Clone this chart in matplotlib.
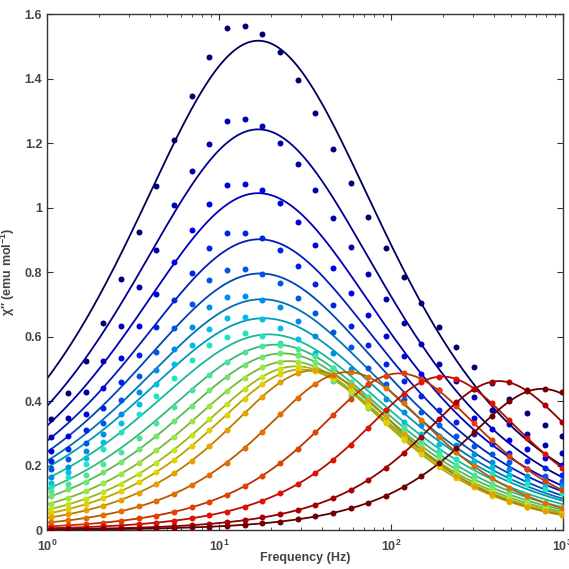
import numpy as np
import matplotlib
matplotlib.use("Agg")
import matplotlib.pyplot as plt

plt.rcParams["font.family"] = ["Liberation Sans", "DejaVu Sans"]
plt.rcParams["mathtext.fontset"] = "custom"
plt.rcParams["mathtext.rm"] = "Liberation Sans:bold"
plt.rcParams["mathtext.bf"] = "Liberation Sans:bold"

# measurement frequencies (Hz)
freq = [1.05, 1.33, 1.68, 2.13, 2.70, 3.42, 4.33, 5.48, 6.94, 8.80,
        11.1, 14.1, 17.9, 22.7, 28.7, 36.4, 46.1, 58.3, 73.9, 93.6,
        119, 150, 190, 241, 305, 387, 490, 621, 786, 996]

# generalized Debye fits: peak height, peak frequency (log10 Hz), alpha
peak_chi = [1.518, 1.243, 1.045, 0.902, 0.796, 0.716, 0.657, 0.607, 0.575,
            0.548, 0.524, 0.508, 0.498, 0.495, 0.490, 0.486, 0.476, 0.462, 0.438]
peak_logf = [1.229, 1.229, 1.229, 1.235, 1.24, 1.25, 1.26, 1.29, 1.33,
             1.37, 1.41, 1.45, 1.48, 1.55, 1.75, 2.05, 2.30, 2.63, 2.88]
alpha = [0.26, 0.26, 0.26, 0.26, 0.26, 0.26, 0.26, 0.24, 0.21,
         0.18, 0.15, 0.12, 0.09, 0.06, 0.05, 0.04, 0.02, 0.0, 0.0]

# measured chi'' at each temperature, coldest first
chi_t1 = [0.343, 0.424, 0.525, 0.643, 0.778, 0.924, 1.068, 1.21, 1.347, 1.466,
          1.557, 1.565, 1.540, 1.484, 1.396, 1.293, 1.181, 1.076, 0.970, 0.875,
          0.784, 0.704, 0.631, 0.567, 0.505, 0.455, 0.405, 0.364, 0.326, 0.292]
chi_t2 = [0.288, 0.346, 0.427, 0.524, 0.634, 0.753, 0.870, 1.008, 1.114, 1.198,
          1.269, 1.276, 1.253, 1.200, 1.136, 1.055, 0.967, 0.879, 0.794, 0.717,
          0.643, 0.576, 0.514, 0.462, 0.412, 0.371, 0.330, 0.297, 0.265, 0.239]
chi_t3 = [0.245, 0.291, 0.360, 0.442, 0.534, 0.634, 0.733, 0.833, 0.930, 1.010,
          1.070, 1.075, 1.055, 1.014, 0.957, 0.884, 0.812, 0.736, 0.667, 0.602,
          0.540, 0.484, 0.433, 0.389, 0.347, 0.313, 0.278, 0.250, 0.224, 0.201]
chi_t4 = [0.215, 0.250, 0.309, 0.379, 0.458, 0.544, 0.629, 0.715, 0.798, 0.875,
          0.921, 0.922, 0.905, 0.869, 0.819, 0.762, 0.698, 0.634, 0.574, 0.516,
          0.463, 0.415, 0.372, 0.334, 0.298, 0.268, 0.239, 0.215, 0.192, 0.172]
chi_t5 = [0.188, 0.220, 0.271, 0.333, 0.403, 0.478, 0.552, 0.628, 0.701, 0.776,
          0.807, 0.810, 0.794, 0.765, 0.719, 0.672, 0.615, 0.569, 0.503, 0.454,
          0.407, 0.365, 0.326, 0.293, 0.262, 0.236, 0.210, 0.189, 0.168, 0.151]
chi_t6 = [0.165, 0.197, 0.244, 0.299, 0.361, 0.429, 0.496, 0.563, 0.629, 0.693,
          0.724, 0.727, 0.714, 0.691, 0.648, 0.601, 0.550, 0.500, 0.451, 0.407,
          0.365, 0.327, 0.293, 0.263, 0.235, 0.212, 0.188, 0.169, 0.151, 0.136]
chi_t7 = [0.146, 0.180, 0.223, 0.273, 0.331, 0.392, 0.454, 0.515, 0.575, 0.624,
          0.657, 0.662, 0.654, 0.628, 0.593, 0.549, 0.503, 0.458, 0.413, 0.372,
          0.334, 0.299, 0.268, 0.241, 0.215, 0.194, 0.172, 0.155, 0.138, 0.124]
chi_t8 = [0.134, 0.165, 0.204, 0.251, 0.303, 0.360, 0.416, 0.473, 0.528, 0.574,
          0.598, 0.610, 0.603, 0.581, 0.544, 0.504, 0.461, 0.420, 0.379, 0.342,
          0.306, 0.275, 0.246, 0.221, 0.197, 0.178, 0.158, 0.142, 0.127, 0.114]
chi_t9 = [0.120, 0.143, 0.171, 0.204, 0.242, 0.285, 0.332, 0.383, 0.433, 0.482,
          0.521, 0.552, 0.571, 0.575, 0.563, 0.539, 0.503, 0.460, 0.413, 0.365,
          0.319, 0.276, 0.236, 0.201, 0.171, 0.143, 0.121, 0.101, 0.085, 0.071]
chi_t10 = [0.105, 0.126, 0.150, 0.179, 0.212, 0.250, 0.292, 0.338, 0.385, 0.433,
           0.476, 0.513, 0.538, 0.548, 0.542, 0.521, 0.488, 0.446, 0.399, 0.351,
           0.304, 0.262, 0.222, 0.188, 0.158, 0.132, 0.110, 0.092, 0.076, 0.063]
chi_t11 = [0.082, 0.100, 0.120, 0.145, 0.174, 0.208, 0.247, 0.290, 0.337, 0.385,
           0.431, 0.473, 0.505, 0.522, 0.522, 0.506, 0.475, 0.435, 0.388, 0.340,
           0.292, 0.250, 0.211, 0.177, 0.147, 0.122, 0.101, 0.083, 0.069, 0.057]
chi_t12 = [0.065, 0.080, 0.097, 0.118, 0.144, 0.174, 0.209, 0.249, 0.294, 0.343,
           0.391, 0.437, 0.476, 0.500, 0.508, 0.497, 0.470, 0.431, 0.384, 0.335,
           0.286, 0.243, 0.204, 0.169, 0.140, 0.115, 0.094, 0.077, 0.063, 0.051]
chi_t13 = [0.053, 0.065, 0.080, 0.098, 0.121, 0.148, 0.180, 0.218, 0.261, 0.309,
           0.358, 0.408, 0.452, 0.484, 0.498, 0.492, 0.467, 0.428, 0.381, 0.331,
           0.280, 0.236, 0.196, 0.161, 0.132, 0.107, 0.087, 0.071, 0.058, 0.047]
chi_t14 = [0.039, 0.049, 0.061, 0.076, 0.094, 0.116, 0.143, 0.176, 0.215, 0.260,
           0.309, 0.362, 0.414, 0.458, 0.486, 0.495, 0.482, 0.449, 0.404, 0.352,
           0.298, 0.251, 0.207, 0.169, 0.138, 0.111, 0.090, 0.072, 0.058, 0.047]
chi_t15 = [0.024, 0.030, 0.037, 0.047, 0.058, 0.073, 0.090, 0.112, 0.139, 0.172,
           0.209, 0.255, 0.305, 0.359, 0.410, 0.454, 0.482, 0.490, 0.475, 0.441,
           0.393, 0.342, 0.289, 0.241, 0.198, 0.161, 0.131, 0.105, 0.085, 0.068]
chi_t16 = [0.012, 0.015, 0.018, 0.023, 0.029, 0.036, 0.045, 0.056, 0.070, 0.088,
           0.109, 0.136, 0.169, 0.208, 0.252, 0.303, 0.356, 0.408, 0.452, 0.479,
           0.486, 0.469, 0.433, 0.384, 0.331, 0.278, 0.230, 0.188, 0.153, 0.123]
chi_t17 = [0.006, 0.007, 0.009, 0.011, 0.014, 0.018, 0.023, 0.029, 0.036, 0.046,
           0.057, 0.072, 0.091, 0.114, 0.142, 0.177, 0.218, 0.265, 0.318, 0.372,
           0.423, 0.458, 0.476, 0.468, 0.439, 0.393, 0.340, 0.286, 0.236, 0.192]
chi_t18 = [0.002, 0.003, 0.004, 0.005, 0.006, 0.007, 0.009, 0.012, 0.015, 0.019,
           0.024, 0.030, 0.039, 0.049, 0.062, 0.078, 0.099, 0.124, 0.156, 0.193,
           0.239, 0.289, 0.344, 0.396, 0.437, 0.460, 0.458, 0.431, 0.388, 0.335]
chi_t19 = [0.001, 0.002, 0.002, 0.002, 0.003, 0.004, 0.005, 0.006, 0.008, 0.010,
           0.013, 0.016, 0.021, 0.026, 0.033, 0.042, 0.053, 0.067, 0.085, 0.106,
           0.134, 0.167, 0.207, 0.253, 0.303, 0.355, 0.399, 0.433, 0.438, 0.427]
points = [chi_t1, chi_t2, chi_t3, chi_t4, chi_t5, chi_t6, chi_t7, chi_t8,
          chi_t9, chi_t10, chi_t11, chi_t12, chi_t13, chi_t14, chi_t15,
          chi_t16, chi_t17, chi_t18, chi_t19]


def debye(f, h, logfp, a):
    s = np.sin(np.pi * a / 2)
    u = (f / 10 ** logfp) ** (1 - a)
    return h * 2 * u * (1 + s) / (1 + 2 * u * s + u ** 2)


fig = plt.figure(figsize=(5.69, 5.69), dpi=100)
ax = fig.add_axes([0.0826, 0.0685, 0.9063, 0.9064])
cmap = plt.get_cmap("jet")
n = len(peak_chi)
fgrid = np.logspace(0, 3, 400)
for i in range(n):
    c = np.array(cmap(i / (n - 1))[:3])
    ax.plot(fgrid, debye(fgrid, peak_chi[i], peak_logf[i], alpha[i]),
            color=c * 0.72, lw=1.3, zorder=2)
    ax.plot(freq, points[i], "o", color=c * 0.9, ms=4.3, mec="none", zorder=3)

ax.set_xscale("log")
ax.set_xlim(1, 1000)
ax.set_ylim(0, 1.6)
ax.set_yticks([0, 0.2, 0.4, 0.6, 0.8, 1, 1.2, 1.4, 1.6])
ax.set_yticklabels(["0", "0.2", "0.4", "0.6", "0.8", "1", "1.2", "1.4", "1.6"])
ax.tick_params(which="both", direction="in", top=True, right=True,
               colors="#333333", labelcolor="#444444", labelsize=9)
ax.tick_params(which="major", length=4)
ax.tick_params(which="minor", length=2.5)
ax.tick_params(axis="x", pad=6)
for lab in ax.get_xticklabels() + ax.get_yticklabels():
    lab.set_fontweight("bold")
for sp in ax.spines.values():
    sp.set_color("#333333")
    sp.set_linewidth(1.0)
ax.set_xlabel("Frequency (Hz)", fontsize=9, fontweight="bold", color="#444444")
ax.set_ylabel("χ′′ (emu mol$^{-1}$)", fontsize=9, fontweight="bold",
              color="#444444")
ax.xaxis.set_label_coords(0.5, -0.042)
ax.yaxis.set_label_coords(-0.058, 0.5)
fig.savefig("out.png", dpi=100)
